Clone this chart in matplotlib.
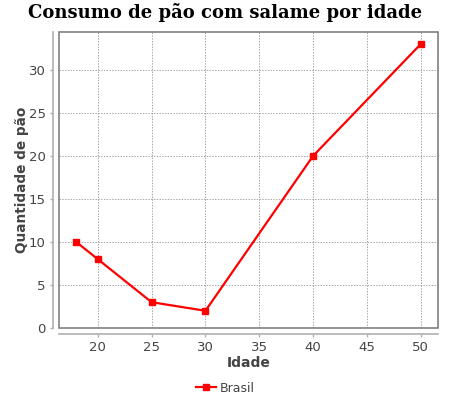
import matplotlib
matplotlib.use("Agg")
import matplotlib.pyplot as plt
from matplotlib.patches import Rectangle

# dados
idades = [18, 20, 25, 30, 40, 50]
quantidade = [10, 8, 3, 2, 20, 33]
serie = "Brasil"

fig = plt.figure(figsize=(4.5, 4), dpi=100)
ax = fig.add_axes([59 / 450, 72 / 400, 379 / 450, 296 / 400])

ax.plot(idades, quantidade, color="#ff0000", lw=1.6, marker="s", ms=5,
        label=serie, zorder=3)

ax.set_xlim(16.4, 51.6)
ax.set_ylim(0, 34.4)
ax.set_xticks([20, 25, 30, 35, 40, 45, 50])
ax.set_yticks([0, 5, 10, 15, 20, 25, 30])

ax.grid(True, color="#808080", linestyle=(0, (2, 2)), linewidth=0.5)

# caixa do plot + eixos deslocados (estilo jfreechart)
for s in ["top", "right"]:
    ax.spines[s].set_visible(False)
for s in ["left", "bottom"]:
    ax.spines[s].set_position(("outward", 4))
    ax.spines[s].set_color("#b0b0b0")
    ax.spines[s].set_linewidth(1.2)
ax.add_patch(Rectangle((0, 0), 1, 1, transform=ax.transAxes, fill=False,
                       edgecolor="#808080", lw=1.2, zorder=4, clip_on=False))

ax.tick_params(colors="#b0b0b0", labelcolor="#444444", labelsize=9.5,
               length=2, width=1)

fig.text(0.5, 1 - 13 / 400, "Consumo de pão com salame por idade",
         family="DejaVu Serif", fontweight="bold", fontsize=13,
         ha="center", va="center")
ax.set_xlabel("Idade", fontweight="bold", fontsize=10, color="#444444",
              labelpad=1)
ax.set_ylabel("Quantidade de pão", fontweight="bold", fontsize=9.8,
              color="#444444", labelpad=0)

fig.legend(loc="center", bbox_to_anchor=(0.5, 12 / 400), frameon=False,
           fontsize=9, labelcolor="#444444", handlelength=1.6,
           handletextpad=0.3, markerscale=0.9)

fig.savefig("out.png", dpi=100)
